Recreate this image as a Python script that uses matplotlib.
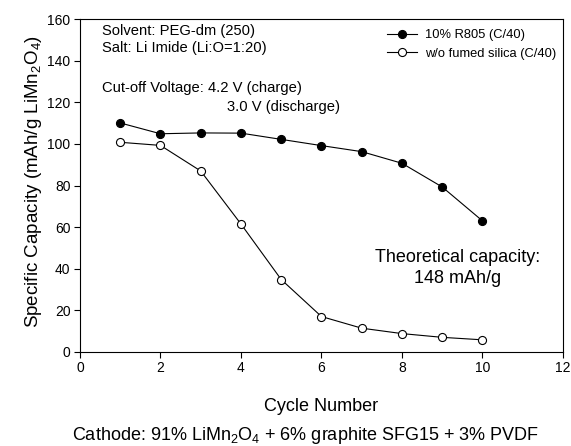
import matplotlib
matplotlib.use("Agg")
import matplotlib.pyplot as plt

plt.rcParams['font.family'] = ['Liberation Sans', 'DejaVu Sans']
plt.rcParams['mathtext.fontset'] = 'custom'
plt.rcParams['mathtext.rm'] = 'Liberation Sans'
plt.rcParams['mathtext.it'] = 'Liberation Sans'

cycles = [1, 2, 3, 4, 5, 6, 7, 8, 9, 10]
r805 = [110.1, 104.9, 105.3, 105.2, 102.2, 99.2, 96.3, 90.7, 79.3, 63.0]
no_silica = [100.8, 99.3, 87.0, 61.5, 34.8, 17.0, 11.4, 8.8, 7.0, 5.8]
series_labels = ['10% R805 (C/40)', 'w/o fumed silica (C/40)']
xticks = [0, 2, 4, 6, 8, 10, 12]
yticks = [0, 20, 40, 60, 80, 100, 120, 140, 160]

fig = plt.figure(figsize=(5.71, 4.46), dpi=100)
ax = fig.add_axes([0.140, 0.211, 0.846, 0.746])

ax.plot(cycles, r805, '-', color='black', lw=0.8, marker='o', ms=5.8,
        mfc='black', mec='black', mew=0.8, label=series_labels[0])
ax.plot(cycles, no_silica, '-', color='black', lw=0.8, marker='o', ms=5.8,
        mfc='white', mec='black', mew=0.8, label=series_labels[1])

ax.set_xlim(0, 12)
ax.set_ylim(0, 160)
ax.set_xticks(xticks)
ax.set_yticks(yticks)
ax.tick_params(direction='out', length=4.3, width=0.8, labelsize=10, pad=2.5,
               top=False, right=False)
for s in ax.spines.values():
    s.set_linewidth(0.8)

ax.set_xlabel('Cycle Number', fontsize=13)
ax.xaxis.label.set_va('baseline')
ax.xaxis.set_label_coords(0.5, -0.179)
ax.set_ylabel('Specific Capacity (mAh/g LiMn$_2$O$_4$)', fontsize=13.5)
ax.yaxis.label.set_va('center')
ax.yaxis.set_label_coords(-0.097, 0.513)

leg = ax.legend(loc='upper right', bbox_to_anchor=(0.9855, 0.970), frameon=False,
                fontsize=9.3, handlelength=2.3, handletextpad=0.6, labelspacing=0.5,
                borderaxespad=0.0, borderpad=0.0)

ann = 10.6
ax.text(0.045, 0.965, 'Solvent: PEG-dm (250)', transform=ax.transAxes, fontsize=ann, va='center')
ax.text(0.045, 0.914, 'Salt: Li Imide (Li:O=1:20)', transform=ax.transAxes, fontsize=ann, va='center')
ax.text(0.045, 0.792, 'Cut-off Voltage: 4.2 V (charge)', transform=ax.transAxes, fontsize=ann, va='center')
ax.text(0.3036, 0.735, '3.0 V (discharge)', transform=ax.transAxes, fontsize=ann, va='center')

ax.text(0.782, 0.2525, 'Theoretical capacity:\n148 mAh/g', transform=ax.transAxes,
        fontsize=13, ha='center', va='center', linespacing=1.25)

fig.text(0.535, 1 - 440.0 / 446, 'Cathode: 91% LiMn$_2$O$_4$ + 6% graphite SFG15 + 3% PVDF',
         ha='center', va='baseline', fontsize=13)

fig.savefig('out.png', dpi=100)
